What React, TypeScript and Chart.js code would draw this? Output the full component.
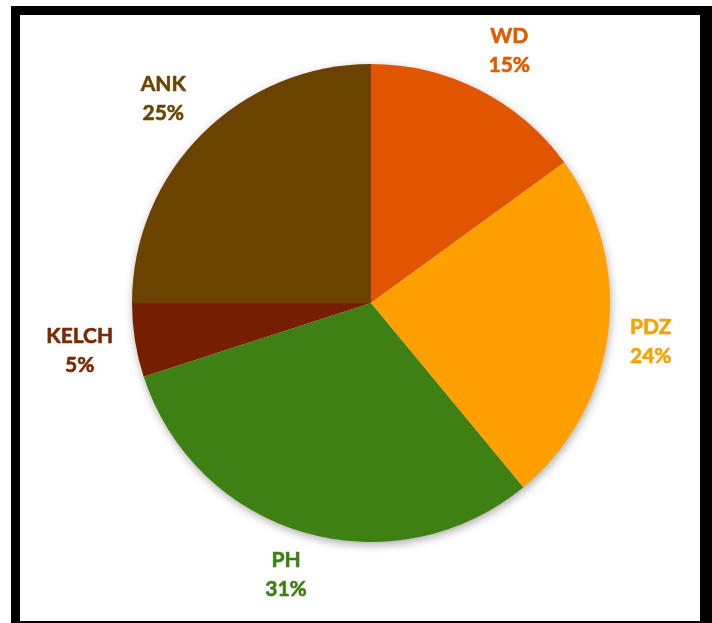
import React, { useEffect, useRef } from "react";
import { Chart, registerables } from "chart.js";

Chart.register(...registerables);

const categories = ["WD", "PDZ", "PH", "KELCH", "ANK"];
const shares = [15, 24, 31, 5, 25];
const sliceColors = ["#E25500", "#FFA000", "#3E8013", "#761E00", "#6B4300"];
const labelColors = ["#E05A00", "#F5A300", "#3E8013", "#7A2A05", "#6B4600"];

const shadowPlugin = {
  id: "pieShadow",
  beforeDatasetsDraw(chart: any) {
    const meta = chart.getDatasetMeta(0);
    const a = meta.data[0];
    if (!a) return;
    const ctx = chart.ctx;
    ctx.save();
    ctx.shadowColor = "rgba(0,0,0,0.35)";
    ctx.shadowBlur = 10;
    ctx.shadowOffsetX = 1;
    ctx.shadowOffsetY = 3;
    ctx.fillStyle = "#ffffff";
    ctx.beginPath();
    ctx.arc(a.x, a.y, a.outerRadius - 0.5, 0, Math.PI * 2);
    ctx.fill();
    ctx.restore();
  },
};

const outsideLabels = {
  id: "outsideLabels",
  afterDatasetsDraw(chart: any, _args: any, opts: any) {
    const meta = chart.getDatasetMeta(0);
    const ctx = chart.ctx;
    const gap = opts.gap ?? 20;
    const lineH = opts.lineHeight ?? 29;
    const capH = opts.capHeight ?? 15;
    ctx.save();
    ctx.font = opts.font;
    ctx.textAlign = "center";
    ctx.textBaseline = "alphabetic";
    ctx.lineJoin = "round";
    meta.data.forEach((arc: any, i: number) => {
      const mid = (arc.startAngle + arc.endAngle) / 2;
      const dx = Math.cos(mid);
      const dy = Math.sin(mid);
      const r = arc.outerRadius;
      const l1 = categories[i];
      const l2 = shares[i] + "%";
      const w = Math.max(ctx.measureText(l1).width, ctx.measureText(l2).width);
      const hw = w / 2 + 2;
      const hh = (lineH + capH) / 2;
      const fx = Math.sign(dx) * Math.min(1, Math.abs(dx) * 2);
      const fy = Math.sign(dy) * Math.min(1, Math.abs(dy) * 2);
      const cx = arc.x + dx * (r + gap) + hw * fx;
      const cy = arc.y + dy * (r + gap) + hh * fy;
      ctx.fillStyle = labelColors[i];
      ctx.strokeStyle = labelColors[i];
      ctx.lineWidth = 0.6;
      const y1 = cy - lineH / 2 + capH / 2;
      const y2 = cy + lineH / 2 + capH / 2;
      ctx.fillText(l1, cx, y1);
      ctx.strokeText(l1, cx, y1);
      ctx.fillText(l2, cx, y2);
      ctx.strokeText(l2, cx, y2);
    });
    ctx.restore();
  },
};

export default function App() {
  const ref = useRef<HTMLCanvasElement>(null);
  useEffect(() => {
    if (!ref.current) return;
    const chart = new Chart(ref.current, {
      type: "pie",
      data: {
        labels: categories,
        datasets: [
          {
            data: shares,
            backgroundColor: sliceColors,
            borderWidth: 0,
          },
        ],
      },
      options: {
        animation: false,
        responsive: true,
        maintainAspectRatio: false,
        layout: { padding: { top: 64, bottom: 81, left: 100, right: 70 } },
        plugins: {
          legend: { display: false },
          tooltip: { enabled: false },
          outsideLabels: {
            font: "bold 21px Lato",
            gap: 20,
            lineHeight: 29,
            capHeight: 15,
          },
        } as any,
      },
      plugins: [shadowPlugin, outsideLabels],
    });
    return () => chart.destroy();
  }, []);

  return (
    <div
      style={{
        position: "fixed",
        left: 0,
        top: 0,
        width: 712,
        height: 623,
        overflow: "hidden",
        background: "#ffffff",
      }}
    >
      <canvas
        ref={ref}
        style={{ position: "absolute", left: 0, top: 0, width: 712, height: 623 }}
      />
      <div
        style={{
          position: "absolute",
          left: 11,
          top: 6,
          width: 680,
          height: 606,
          borderTop: "9px solid #000",
          borderLeft: "9px solid #000",
          borderRight: "12px solid #000",
          borderBottom: "9px solid #000",
          pointerEvents: "none",
        }}
      />
    </div>
  );
}
